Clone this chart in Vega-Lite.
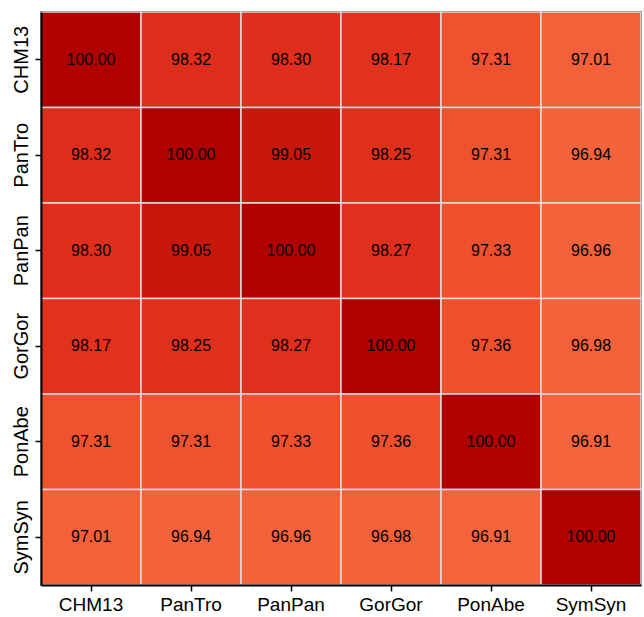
{
  "$schema": "https://vega.github.io/schema/vega-lite/v6.json",
  "width": 600,
  "height": 573,
  "autosize": {"type": "none"},
  "padding": {"left": 41, "top": 12, "right": 3, "bottom": 32},
  "background": "white",
  "config": {
    "view": {"stroke": "black", "strokeWidth": 2},
    "font": "Liberation Sans"
  },
  "data": {
    "values": [
      {"row": "CHM13", "col": "CHM13", "v": 100.00},
      {"row": "CHM13", "col": "PanTro", "v": 98.32},
      {"row": "CHM13", "col": "PanPan", "v": 98.30},
      {"row": "CHM13", "col": "GorGor", "v": 98.17},
      {"row": "CHM13", "col": "PonAbe", "v": 97.31},
      {"row": "CHM13", "col": "SymSyn", "v": 97.01},
      {"row": "PanTro", "col": "CHM13", "v": 98.32},
      {"row": "PanTro", "col": "PanTro", "v": 100.00},
      {"row": "PanTro", "col": "PanPan", "v": 99.05},
      {"row": "PanTro", "col": "GorGor", "v": 98.25},
      {"row": "PanTro", "col": "PonAbe", "v": 97.31},
      {"row": "PanTro", "col": "SymSyn", "v": 96.94},
      {"row": "PanPan", "col": "CHM13", "v": 98.30},
      {"row": "PanPan", "col": "PanTro", "v": 99.05},
      {"row": "PanPan", "col": "PanPan", "v": 100.00},
      {"row": "PanPan", "col": "GorGor", "v": 98.27},
      {"row": "PanPan", "col": "PonAbe", "v": 97.33},
      {"row": "PanPan", "col": "SymSyn", "v": 96.96},
      {"row": "GorGor", "col": "CHM13", "v": 98.17},
      {"row": "GorGor", "col": "PanTro", "v": 98.25},
      {"row": "GorGor", "col": "PanPan", "v": 98.27},
      {"row": "GorGor", "col": "GorGor", "v": 100.00},
      {"row": "GorGor", "col": "PonAbe", "v": 97.36},
      {"row": "GorGor", "col": "SymSyn", "v": 96.98},
      {"row": "PonAbe", "col": "CHM13", "v": 97.31},
      {"row": "PonAbe", "col": "PanTro", "v": 97.31},
      {"row": "PonAbe", "col": "PanPan", "v": 97.33},
      {"row": "PonAbe", "col": "GorGor", "v": 97.36},
      {"row": "PonAbe", "col": "PonAbe", "v": 100.00},
      {"row": "PonAbe", "col": "SymSyn", "v": 96.91},
      {"row": "SymSyn", "col": "CHM13", "v": 97.01},
      {"row": "SymSyn", "col": "PanTro", "v": 96.94},
      {"row": "SymSyn", "col": "PanPan", "v": 96.96},
      {"row": "SymSyn", "col": "GorGor", "v": 96.98},
      {"row": "SymSyn", "col": "PonAbe", "v": 96.91},
      {"row": "SymSyn", "col": "SymSyn", "v": 100.00}
    ]
  },
  "encoding": {
    "x": {
      "field": "col", "type": "nominal",
      "sort": ["CHM13", "PanTro", "PanPan", "GorGor", "PonAbe", "SymSyn"],
      "scale": {"paddingInner": 0, "paddingOuter": 0},
      "axis": {
        "title": null, "labelAngle": 0, "labelFontSize": 19, "labelColor": "black",
        "labelFont": "Liberation Sans", "labelPadding": 4,
        "tickColor": "black", "tickSize": 6, "tickWidth": 1.5,
        "domainColor": "black", "domainWidth": 2
      }
    },
    "y": {
      "field": "row", "type": "nominal",
      "sort": ["CHM13", "PanTro", "PanPan", "GorGor", "PonAbe", "SymSyn"],
      "scale": {"paddingInner": 0, "paddingOuter": 0},
      "axis": {
        "title": null, "labelAngle": -90, "labelAlign": "center", "labelBaseline": "bottom",
        "labelFontSize": 20, "labelColor": "black", "labelFont": "Liberation Sans", "labelPadding": 4,
        "tickColor": "black", "tickSize": 6, "tickWidth": 1.5,
        "domainColor": "black", "domainWidth": 2
      }
    }
  },
  "layer": [
    {
      "mark": {"type": "rect", "stroke": "#dcdcdc", "strokeWidth": 1.5},
      "encoding": {
        "color": {
          "field": "v", "type": "quantitative", "legend": null,
          "scale": {
            "domain": [96.91, 97.31, 98.2, 99.05, 100],
            "range": ["#f4643d", "#ef522f", "#e2311d", "#c8180c", "#b10000"]
          }
        }
      }
    },
    {
      "mark": {"type": "text", "fontSize": 16, "color": "black", "font": "Liberation Sans"},
      "encoding": {"text": {"field": "v", "type": "quantitative", "format": ".2f"}}
    }
  ]
}
